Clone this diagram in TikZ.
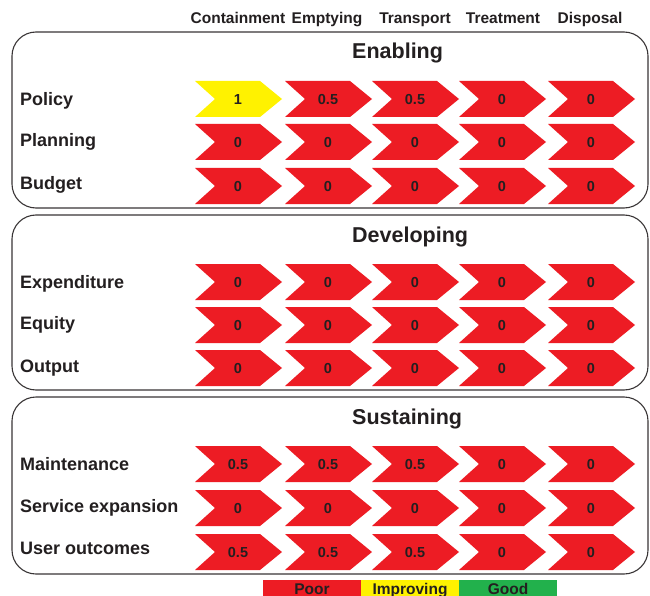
\documentclass[tikz,border=0pt]{standalone}
\usepackage{fontspec}
\setmainfont{Liberation Sans}
\definecolor{pred}{HTML}{ED1C24}
\definecolor{pyel}{HTML}{FFF200}
\definecolor{pgrn}{HTML}{22B14C}
\definecolor{ink}{HTML}{231F20}
\newcommand\chevron[5]{% name, left, cy, colour, value
  \fill[#4] (#2,#3-18) -- (#2+65,#3-18) -- (#2+87,#3) -- (#2+65,#3+18) -- (#2,#3+18) -- (#2+20,#3) -- cycle;
  \node[numtxt] (#1) at (#2+43,#3+5.5) {#5};}
\begin{document}
\begin{tikzpicture}[x=1pt,y=-1pt,
  every node/.style={text=ink, font=\bfseries},
  numtxt/.style={anchor=base, inner sep=0pt, font=\fontsize{14.5}{16}\selectfont\bfseries},
  hdr/.style={anchor=base, inner sep=0pt, font=\fontsize{15.5}{18}\selectfont\bfseries},
  ttl/.style={anchor=base west, inner sep=0pt, font=\fontsize{21.5}{24}\selectfont\bfseries},
  rowlab/.style={anchor=base west, inner sep=0pt, font=\fontsize{18}{20}\selectfont\bfseries},
  panel/.style={draw=ink!90, line width=1.1pt, rounded corners=24pt},
  legbox/.style={anchor=north west, inner sep=0pt, minimum width=98pt, minimum height=24pt},
  legtxt/.style={anchor=base, inner sep=0pt, font=\fontsize{15.5}{18}\selectfont\bfseries}]
\useasboundingbox (0,0) rectangle (650,596);
\clip (0,0) rectangle (650,596);
\fill[white] (0,0) rectangle (650,596);

% column headers
\node[hdr] (h1) at (238,24) {Containment};
\node[hdr] (h2) at (327,24) {Emptying};
\node[hdr] (h3) at (415,24) {Transport};
\node[hdr] (h4) at (503,24) {Treatment};
\node[hdr] (h5) at (590,24) {Disposal};

% panels
\draw[panel] (12,32) rectangle (648,208);
\draw[panel] (12,215) rectangle (648,390);
\draw[panel] (12,397) rectangle (648,574);
\node[ttl] (t1) at (352,59) {Enabling};
\node[ttl] (t2) at (352,242) {Developing};
\node[ttl] (t3) at (352,424) {Sustaining};

% row labels
\node[rowlab] (l1) at (20,105.5) {Policy};
\node[rowlab] (l2) at (20,146.5) {Planning};
\node[rowlab] (l3) at (20,189.5) {Budget};
\node[rowlab] (l4) at (20,288) {Expenditure};
\node[rowlab] (l5) at (20,329.5) {Equity};
\node[rowlab] (l6) at (20,372.5) {Output};
\node[rowlab] (l7) at (20,470) {Maintenance};
\node[rowlab] (l8) at (20,512.5) {Service expansion};
\node[rowlab] (l9) at (20,554.5) {User outcomes};

% chevrons
\foreach \r/\y/\ca/\va/\cb/\vb/\cc/\vc/\cd/\vd/\ce/\ve in {
  1/99/pyel/1/pred/0.5/pred/0.5/pred/0/pred/0,
  2/142/pred/0/pred/0/pred/0/pred/0/pred/0,
  3/186/pred/0/pred/0/pred/0/pred/0/pred/0,
  4/282/pred/0/pred/0/pred/0/pred/0/pred/0,
  5/325/pred/0/pred/0/pred/0/pred/0/pred/0,
  6/368/pred/0/pred/0/pred/0/pred/0/pred/0,
  7/464/pred/0.5/pred/0.5/pred/0.5/pred/0/pred/0,
  8/508/pred/0/pred/0/pred/0/pred/0/pred/0,
  9/552/pred/0.5/pred/0.5/pred/0.5/pred/0/pred/0}{
  \chevron{c\r a}{195}{\y}{\ca}{\va}
  \chevron{c\r b}{285}{\y}{\cb}{\vb}
  \chevron{c\r c}{372}{\y}{\cc}{\vc}
  \chevron{c\r d}{459}{\y}{\cd}{\vd}
  \chevron{c\r e}{548}{\y}{\ce}{\ve}
}

% legend
\node[legbox, fill=pred] (lp) at (263,580) {};
\node[legbox, fill=pyel] (li) at (361,580) {};
\node[legbox, fill=pgrn] (lg) at (459,580) {};
\node[legtxt] (tp) at (312,594.5) {Poor};
\node[legtxt] (ti) at (410,594.5) {Improving};
\node[legtxt] (tg) at (508,594.5) {Good};
\end{tikzpicture}
\end{document}
